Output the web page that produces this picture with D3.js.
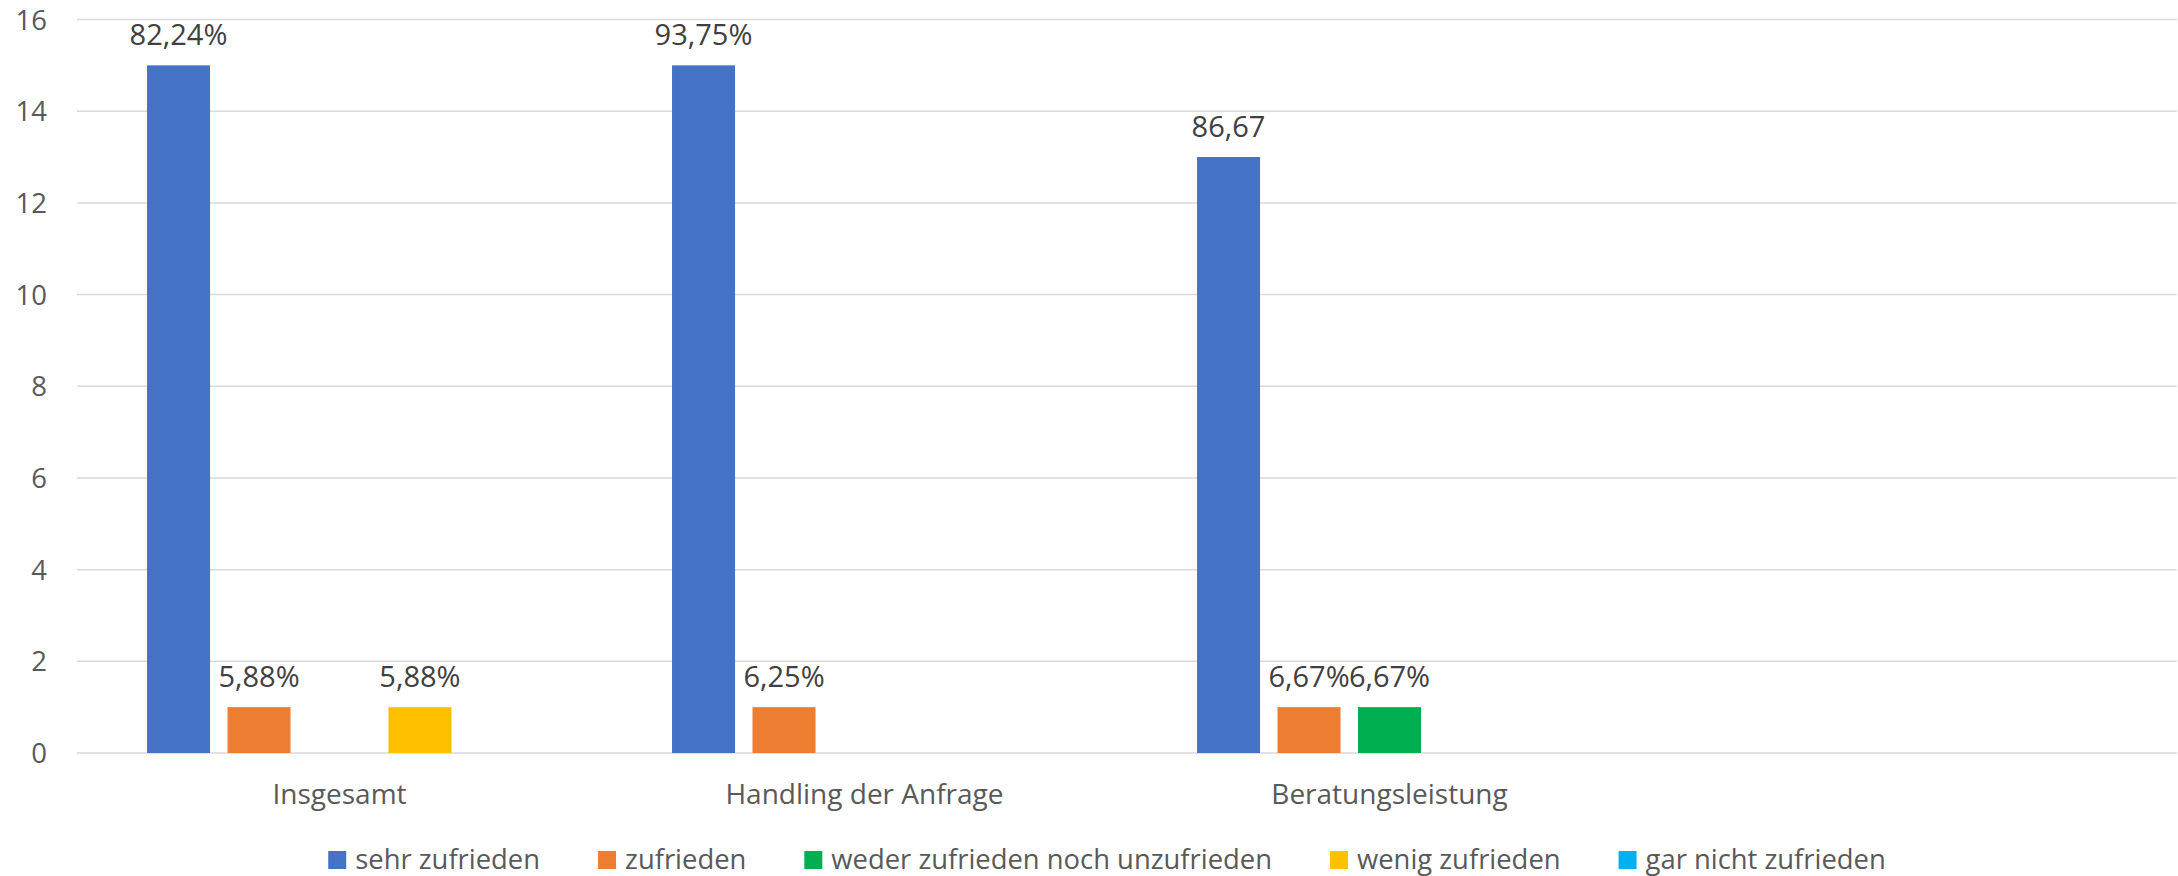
<!DOCTYPE html>
<html>
<head>
<meta charset="utf-8">
<script src="https://cdn.jsdelivr.net/npm/d3@7"></script>
<style>
  html, body { margin: 0; padding: 0; background: #fff; }
  svg { display: block; }
  text { font-family: "Open Sans", "Noto Sans", sans-serif; }
</style>
</head>
<body>
<svg id="chart" width="2178" height="876"></svg>
<script>
// ---- data ----
const categories = ["Insgesamt", "Handling der Anfrage", "Beratungsleistung", ""];
const seriesNames = ["sehr zufrieden", "zufrieden", "weder zufrieden noch unzufrieden", "wenig zufrieden", "gar nicht zufrieden"];
const seriesColors = ["#4472C4", "#ED7D31", "#00B050", "#FFC000", "#00B0F0"];
const sehrZufrieden = [15, 15, 13];
const zufrieden = [1, 1, 1];
const wederNoch = [null, null, 1];
const wenigZufrieden = [1, null, null];
const garNicht = [null, null, null];
const sehrZufriedenLabels = ["82,24%", "93,75%", "86,67"];
const zufriedenLabels = ["5,88%", "6,25%", "6,67%"];
const wederNochLabels = ["", "", "6,67%"];
const wenigZufriedenLabels = ["5,88%", "", ""];
const garNichtLabels = ["", "", ""];
const yTicks = [0, 2, 4, 6, 8, 10, 12, 14, 16];

const seriesValues = [sehrZufrieden, zufrieden, wederNoch, wenigZufrieden, garNicht];
const seriesLabels = [sehrZufriedenLabels, zufriedenLabels, wederNochLabels, wenigZufriedenLabels, garNichtLabels];

// ---- layout ----
const svg = d3.select("#chart");
const plotLeft = 77, plotRight = 2177, plotTop = 19.5, plotBottom = 753;

const x = d3.scaleBand().domain(categories).range([plotLeft, plotRight]).padding(0);
const xs = d3.scaleBand().domain(seriesNames).range([0, x.bandwidth()])
  .paddingInner(0.217).paddingOuter(0.87);
const y = d3.scaleLinear().domain([0, 16]).range([plotBottom, plotTop]);

// gridlines
svg.append("g").selectAll("line").data(yTicks).join("line")
  .attr("x1", plotLeft).attr("x2", plotRight)
  .attr("y1", d => y(d)).attr("y2", d => y(d))
  .attr("stroke", "#d9d9d9").attr("stroke-width", 1.5);

// y axis labels
const yAxis = d3.axisLeft(y).tickValues(yTicks).tickSize(0).tickPadding(0).tickFormat(d3.format("d"));
const yg = svg.append("g").attr("transform", "translate(47,0)").call(yAxis);
yg.select(".domain").remove();
yg.selectAll("text").attr("font-size", 27.5).attr("fill", "#595959")
  .attr("font-family", "'Open Sans', sans-serif").attr("dy", "0.35em");

// x axis labels
const xAxis = d3.axisBottom(x).tickSize(0).tickPadding(0);
const xg = svg.append("g").attr("transform", `translate(0,${plotBottom})`).call(xAxis);
xg.select(".domain").remove();
xg.selectAll("text").attr("font-size", 28).attr("fill", "#595959")
  .attr("font-family", "'Open Sans', sans-serif").attr("dy", null).attr("y", 51);

// bars
const barData = [];
seriesNames.forEach((s, si) => {
  seriesValues[si].forEach((v, ci) => {
    if (v != null) barData.push({ s, si, cat: categories[ci], v, label: seriesLabels[si][ci] });
  });
});
svg.append("g").selectAll("rect").data(barData).join("rect")
  .attr("x", d => x(d.cat) + xs(d.s))
  .attr("width", xs.bandwidth())
  .attr("y", d => y(d.v))
  .attr("height", d => y(0) - y(d.v))
  .attr("fill", d => seriesColors[d.si]);

svg.append("g").selectAll("text").data(barData.filter(d => d.label)).join("text")
  .attr("x", d => x(d.cat) + xs(d.s) + xs.bandwidth() / 2)
  .attr("y", d => y(d.v) - 20)
  .attr("text-anchor", "middle")
  .attr("font-size", 29).attr("fill", "#404040")
  .text(d => d.label);

// legend
const legend = svg.append("g");
const sw = 18, gapText = 9, gapItem = 58;
const items = legend.selectAll("g").data(seriesNames).join("g");
items.append("rect").attr("width", sw).attr("height", sw).attr("y", 851)
  .attr("fill", (d, i) => seriesColors[i]);
items.append("text").attr("x", sw + gapText).attr("y", 869)
  .attr("font-size", 27.4).attr("fill", "#595959").text(d => d);
let widths = [];
items.each(function () { widths.push(d3.select(this).select("text").node().getComputedTextLength()); });
const total = d3.sum(widths, w => sw + gapText + w) + gapItem * (widths.length - 1);
let cx = 1107 - total / 2;
items.each(function (d, i) {
  d3.select(this).attr("transform", `translate(${cx},0)`);
  cx += sw + gapText + widths[i] + gapItem;
});
</script>
</body>
</html>
